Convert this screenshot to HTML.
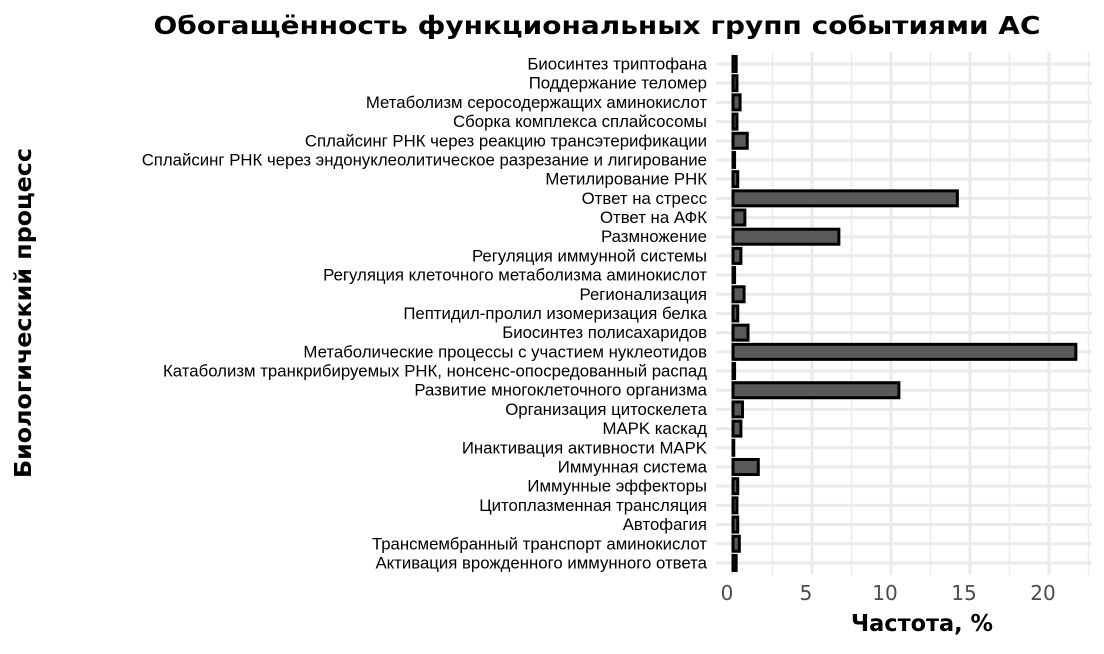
<!DOCTYPE html>
<html><head><meta charset="utf-8"><style>
body{margin:0;background:#fff;}
svg text{font-family:"DejaVu Sans","Liberation Sans",sans-serif;}
svg text.yl{font-family:"Liberation Sans","DejaVu Sans",sans-serif;}
</style></head><body>
<svg id="c" width="1104" height="649" xmlns="http://www.w3.org/2000/svg">
<text x="597" y="34" text-anchor="middle" font-size="25" font-weight="bold" textLength="887" lengthAdjust="spacingAndGlyphs">Обогащённость функциональных групп событиями АС</text>
<g id="grid"></g><g id="bars"></g><g id="ylab"></g><g id="xlab"></g>
<text x="922" y="631" text-anchor="middle" font-size="23" font-weight="bold" textLength="142" lengthAdjust="spacingAndGlyphs">Частота, %</text>
<text transform="translate(31,313) rotate(-90)" text-anchor="middle" font-size="23" font-weight="bold" textLength="330" lengthAdjust="spacingAndGlyphs">Биологический процесс</text>
</svg>
<script>
const categories=["Биосинтез триптофана","Поддержание теломер","Метаболизм серосодержащих аминокислот","Сборка комплекса сплайсосомы","Сплайсинг РНК через реакцию трансэтерификации","Сплайсинг РНК через эндонуклеолитическое разрезание и лигирование","Метилирование РНК","Ответ на стресс","Ответ на АФК","Размножение","Регуляция иммунной системы","Регуляция клеточного метаболизма аминокислот","Регионализация","Пептидил-пролил изомеризация белка","Биосинтез полисахаридов","Метаболические процессы с участием нуклеотидов","Катаболизм транкрибируемых РНК, нонсенс-опосредованный распад","Развитие многоклеточного организма","Организация цитоскелета","MAPK каскад","Инактивация активности MAPK","Иммунная система","Иммунные эффекторы","Цитоплазменная трансляция","Автофагия","Трансмембранный транспорт аминокислот","Активация врожденного иммунного ответа"];
const values=[0.2,0.25,0.45,0.25,0.9,0.1,0.3,14.2,0.75,6.7,0.5,0.1,0.7,0.3,0.95,21.7,0.1,10.5,0.6,0.5,0.05,1.6,0.3,0.25,0.3,0.4,0.2];
const xTicks=[0,5,10,15,20];
const NS="http://www.w3.org/2000/svg";
const x=v=>733+v*15.8;
const y=i=>64+i*19.19;
function mk(t,a,p){const e=document.createElementNS(NS,t);for(const k in a)e.setAttribute(k,a[k]);p.appendChild(e);return e;}
const g=document.getElementById('grid'),b=document.getElementById('bars'),yl=document.getElementById('ylab'),xl=document.getElementById('xlab');
for(let v=2.5;v<=22.5;v+=5){const l=mk('line',{x1:x(v),x2:x(v),y1:52,y2:575,stroke:'#ebebeb','stroke-width':1.5},g);

}
xTicks.forEach(v=>{const l=mk('line',{x1:x(v),x2:x(v),y1:52,y2:575,stroke:'#ebebeb','stroke-width':3},g);


const t=mk('text',{x:x(v)-6,y:600,'text-anchor':'middle','font-size':20,fill:'#4d4d4d'},xl);t.textContent=v;

});
categories.forEach((c,i)=>{const l=mk('line',{x1:716,x2:1092,y1:y(i),y2:y(i),stroke:'#ebebeb','stroke-width':3},g);


const r=mk('rect',{x:733,y:y(i)-7.5,width:Math.max(values[i]*15.8,0.5),height:15,fill:'#595959',stroke:'#000','stroke-width':3},b);


const t=mk('text',{x:707,y:y(i)+5.5,'text-anchor':'end','font-size':16.8,fill:'#000',class:'yl'},yl);t.textContent=c;


});
</script>
</body></html>
